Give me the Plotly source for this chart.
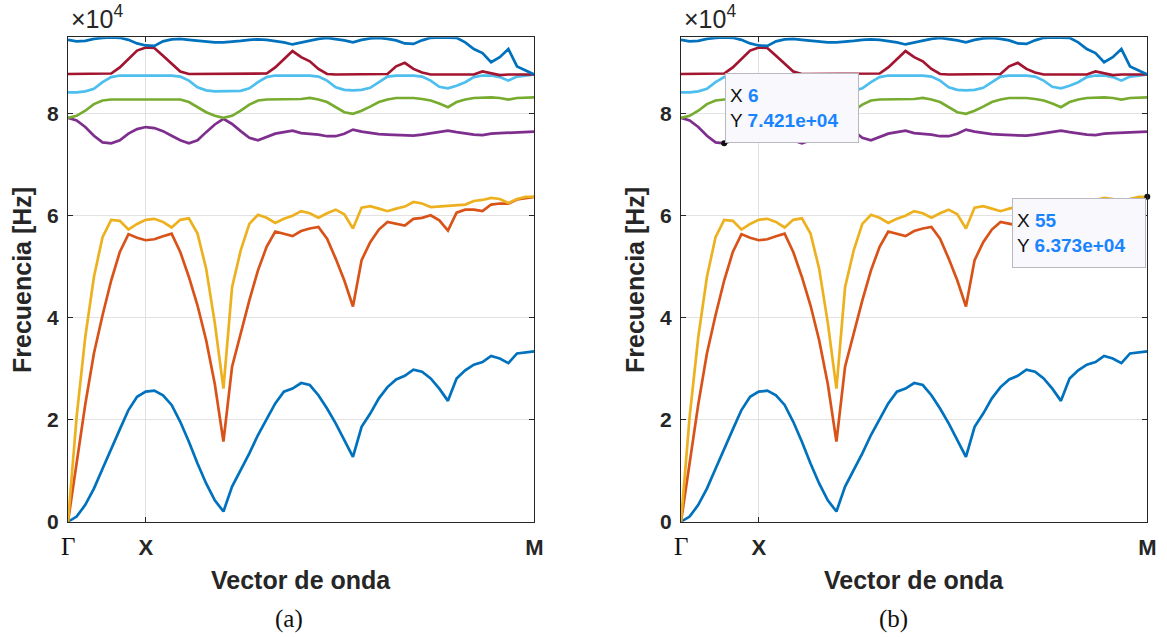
import plotly.graph_objects as go

W, H = 1167, 637

# ---------------- data (frequencies in units of 1e4 Hz) ----------------
k = list(range(1, 56))  # wave-vector sample index (Gamma=1, X=10, M=55)

band1 = [0, 0.10, 0.33, 0.65, 1.04, 1.44, 1.81, 2.19, 2.45, 2.55,
         2.57, 2.48, 2.29, 1.96, 1.57, 1.14, 0.75, 0.42, 0.20, 0.69,
         1.01, 1.34, 1.70, 2.02, 2.32, 2.55, 2.61, 2.72, 2.68, 2.48,
         2.22, 1.93, 1.60, 1.27, 1.86, 2.12, 2.42, 2.64, 2.79, 2.86,
         2.98, 2.94, 2.81, 2.61, 2.37, 2.81, 2.97, 3.08, 3.13, 3.25,
         3.20, 3.11, 3.30, 3.32, 3.34]
band2 = [0, 1.15, 2.30, 3.30, 4.05, 4.73, 5.29, 5.64, 5.57, 5.52,
         5.54, 5.60, 5.65, 5.29, 4.80, 4.24, 3.56, 2.70, 1.57, 3.04,
         3.69, 4.34, 4.93, 5.39, 5.69, 5.65, 5.60, 5.70, 5.75, 5.78,
         5.55, 5.16, 4.73, 4.22, 5.13, 5.48, 5.73, 5.88, 5.84, 5.81,
         5.94, 5.96, 6.01, 5.91, 5.71, 6.06, 6.12, 6.12, 6.09, 6.22,
         6.24, 6.24, 6.32, 6.35, 6.37]
band3 = [0, 2.06, 3.62, 4.80, 5.58, 5.92, 5.90, 5.73, 5.84, 5.92,
         5.94, 5.88, 5.77, 5.92, 5.95, 5.65, 4.96, 3.90, 2.61, 4.60,
         5.32, 5.84, 6.02, 5.96, 5.86, 5.94, 6.00, 6.09, 6.05, 5.96,
         6.05, 6.12, 6.03, 5.75, 6.16, 6.19, 6.14, 6.09, 6.14, 6.18,
         6.27, 6.24, 6.17, 6.18, 6.20, 6.20, 6.22, 6.29, 6.31, 6.35,
         6.33, 6.25, 6.33, 6.37, 6.373]
band4 = [7.92, 7.87, 7.74, 7.57, 7.44, 7.421, 7.48, 7.61, 7.70, 7.74,
         7.72, 7.66, 7.57, 7.48, 7.42, 7.48, 7.64, 7.79, 7.90, 7.80,
         7.66, 7.53, 7.48, 7.54, 7.61, 7.64, 7.67, 7.62, 7.61, 7.59,
         7.56, 7.56, 7.61, 7.69, 7.65, 7.62, 7.60, 7.59, 7.58, 7.57,
         7.57, 7.59, 7.62, 7.65, 7.67, 7.64, 7.61, 7.59, 7.58, 7.61,
         7.62, 7.63, 7.63, 7.64, 7.65]
band5 = [7.92, 7.96, 8.06, 8.19, 8.26, 8.28, 8.28, 8.28, 8.28, 8.28,
         8.28, 8.28, 8.28, 8.28, 8.23, 8.13, 8.03, 7.96, 7.92, 7.96,
         8.06, 8.18, 8.26, 8.28, 8.28, 8.28, 8.28, 8.29, 8.31, 8.28,
         8.23, 8.13, 8.03, 8.00, 8.06, 8.14, 8.23, 8.28, 8.31, 8.31,
         8.31, 8.29, 8.26, 8.20, 8.13, 8.23, 8.28, 8.31, 8.32, 8.32,
         8.31, 8.28, 8.31, 8.32, 8.32]
band6 = [8.42, 8.42, 8.44, 8.49, 8.62, 8.72, 8.75, 8.75, 8.75, 8.75,
         8.75, 8.75, 8.75, 8.73, 8.65, 8.52, 8.46, 8.44, 8.44, 8.44,
         8.45, 8.50, 8.62, 8.72, 8.75, 8.75, 8.75, 8.75, 8.75, 8.73,
         8.65, 8.52, 8.47, 8.46, 8.47, 8.51, 8.62, 8.73, 8.75, 8.75,
         8.75, 8.73, 8.65, 8.53, 8.50, 8.55, 8.62, 8.72, 8.75, 8.75,
         8.72, 8.65, 8.73, 8.75, 8.77]
band7 = [8.78, 8.78, 8.78, 8.78, 8.78, 8.79, 8.91, 9.08, 9.24, 9.30,
         9.29, 9.14, 8.98, 8.83, 8.78, 8.78, 8.78, 8.78, 8.78, 8.78,
         8.78, 8.78, 8.78, 8.79, 8.91, 9.08, 9.23, 9.11, 9.03, 8.88,
         8.78, 8.77, 8.77, 8.77, 8.77, 8.77, 8.77, 8.78, 8.93, 9.00,
         8.88, 8.81, 8.77, 8.77, 8.77, 8.77, 8.77, 8.77, 8.83, 8.80,
         8.76, 8.77, 8.77, 8.77, 8.77]
band8 = [9.45, 9.42, 9.43, 9.47, 9.49, 9.50, 9.49, 9.45, 9.38, 9.34,
         9.33, 9.42, 9.46, 9.47, 9.45, 9.43, 9.42, 9.40, 9.40, 9.41,
         9.43, 9.45, 9.46, 9.45, 9.43, 9.40, 9.36, 9.40, 9.44, 9.47,
         9.49, 9.47, 9.44, 9.40, 9.45, 9.48, 9.49, 9.47, 9.44, 9.38,
         9.37, 9.44, 9.49, 9.50, 9.50, 9.49, 9.40, 9.27, 9.19, 9.01,
         9.11, 9.27, 8.93, 8.85, 8.77]

SCALE = 1e4
ytick_vals = [0, 2, 4, 6, 8]
xtick_pos = [1, 10, 55]
xtick_labels = ["Γ", "X", "M"]
tip_points = [(6, band4), (55, band3)]   # data tips shown in panel (b)

bands = [band1, band2, band3, band4, band5, band6, band7, band8]
colors = ["#0072BD", "#D95319", "#EDB120", "#7E2F8E",
          "#77AC30", "#4DBEEE", "#A2142F", "#0072BD"]

def fx(px):
    return px / W

def fy(py):
    return 1 - py / H

SANS = "Liberation Sans, Arial, Helvetica, sans-serif"
SERIF = "Liberation Serif, DejaVu Serif, serif"
TXT = "#262626"

fig = go.Figure()
for xa, ya in (("x", "y"), ("x2", "y2")):
    for b, c in zip(bands, colors):
        fig.add_trace(go.Scatter(x=k, y=[v * SCALE for v in b], mode="lines",
                                 line=dict(color=c, width=2.7),
                                 xaxis=xa, yaxis=ya, showlegend=False,
                                 hoverinfo="skip"))

# data-tip markers on panel (b)
fig.add_trace(go.Scatter(x=[p for p, _ in tip_points],
                         y=[b[p - 1] * SCALE for p, b in tip_points],
                         mode="markers", marker=dict(color="#111111", size=6),
                         xaxis="x2", yaxis="y2", showlegend=False, cliponaxis=False))

def xaxis(domain, anchor):
    return dict(domain=domain, anchor=anchor, range=[1, 55],
                tickmode="array", tickvals=xtick_pos[1:],
                ticktext=["<b>%s</b>" % t for t in xtick_labels[1:]],
                showgrid=True, gridcolor="#e2e2e2", gridwidth=1,
                showline=True, linecolor=TXT, linewidth=1, mirror="ticks",
                ticks="inside", ticklen=5, tickcolor=TXT,
                tickfont=dict(family=SANS, size=22, color=TXT),
                ticklabelstandoff=6, zeroline=False, automargin=False)

def yaxis(domain, anchor):
    return dict(domain=domain, anchor=anchor, range=[0, 9.5 * SCALE],
                tickmode="array", tickvals=[v * SCALE for v in ytick_vals],
                ticktext=["<b>%d</b>" % v for v in ytick_vals],
                showgrid=True, gridcolor="#e2e2e2", gridwidth=1,
                showline=True, linecolor=TXT, linewidth=1, mirror="ticks",
                ticks="inside", ticklen=5, tickcolor=TXT,
                tickfont=dict(family=SANS, size=21, color=TXT),
                ticklabelstandoff=4, zeroline=False, automargin=False)

ydom = [fy(521.7), fy(37.3)]
ann = []
for xr, yr, (x0, x1), cap, capx in (("x", "y", (68, 534.3), "(a)", 289),
                                    ("x2", "y2", (681, 1147.3), "(b)", 893)):
    # Gamma tick label (serif, as in a LaTeX label)
    ann.append(dict(xref=xr, yref=yr, x=xtick_pos[0], y=0, yshift=-25,
                    xanchor="center", yanchor="middle", showarrow=False,
                    text=xtick_labels[0],
                    font=dict(family=SERIF, size=25, color="#111111")))
    ann.append(dict(xref="paper", yref="paper", x=fx(x0 + 1), y=fy(35),
                    xanchor="left", yanchor="bottom", showarrow=False,
                    text="×10<sup>4</sup>",
                    font=dict(family=SANS, size=25, color=TXT)))
    ann.append(dict(xref="paper", yref="paper", x=fx(x0 - 46), y=fy(280),
                    xanchor="center", yanchor="middle", showarrow=False,
                    textangle=-90, text="<b>Frecuencia [Hz]</b>",
                    font=dict(family=SANS, size=25, color=TXT)))
    ann.append(dict(xref="paper", yref="paper", x=fx((x0 + x1) / 2), y=fy(580),
                    xanchor="center", yanchor="middle", showarrow=False,
                    text="<b>Vector de onda</b>",
                    font=dict(family=SANS, size=25, color=TXT)))
    ann.append(dict(xref="paper", yref="paper", x=fx(capx), y=fy(619),
                    xanchor="center", yanchor="middle", showarrow=False,
                    text=cap, font=dict(family=SERIF, size=25, color="#111111")))

VAL = "#1a84ff"
for i, (p, b) in enumerate(tip_points):
    val = b[p - 1] * SCALE
    txt = ("X <span style='color:%s'><b>%d</b></span><br>"
           "Y <span style='color:%s'><b>%.3e</b></span>") % (VAL, p, VAL, val)
    if i == 0:
        pos = dict(xanchor="left", yanchor="bottom", xshift=1, yshift=0)
    else:
        pos = dict(xanchor="right", yanchor="top", xshift=-1, yshift=-1)
    ann.append(dict(xref="x2", yref="y2", x=p, y=val, showarrow=False,
                    text=txt, align="left", width=124, height=60,
                    bgcolor="#f8f8fd", bordercolor="#b8b8c0", borderwidth=1,
                    borderpad=4, font=dict(family=SANS, size=19, color="#111111"),
                    **pos))

fig.update_layout(
    width=W, height=H,
    margin=dict(l=0, r=0, t=0, b=0, pad=0, autoexpand=False),
    paper_bgcolor="white", plot_bgcolor="white",
    xaxis=xaxis([fx(68), fx(534.3)], "y"),
    yaxis=yaxis(ydom, "x"),
    xaxis2=xaxis([fx(681), fx(1147.3)], "y2"),
    yaxis2=yaxis(ydom, "x2"),
    annotations=ann,
    showlegend=False,
)

fig.write_html("out.html")
